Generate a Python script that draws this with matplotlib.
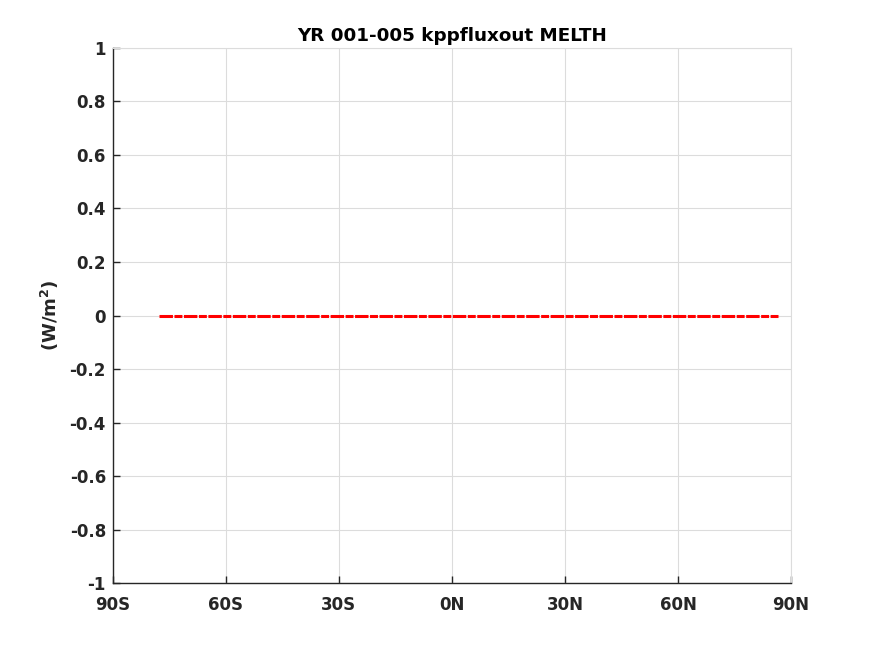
import matplotlib
matplotlib.use('Agg')
import matplotlib.pyplot as plt

# zonal mean of MELTH, all zero over the ocean latitudes
lat = [-77.8, 86.5]
melth = [0.0, 0.0]

xticks = [-90, -60, -30, 0, 30, 60, 90]
xlabels = ['90S', '60S', '30S', '0N', '30N', '60N', '90N']
yticks = [-1, -0.8, -0.6, -0.4, -0.2, 0, 0.2, 0.4, 0.6, 0.8, 1]
ylabels = ['-1', '-0.8', '-0.6', '-0.4', '-0.2', '0', '0.2', '0.4', '0.6', '0.8', '1']

txt = '#262626'
plt.rcParams['font.family'] = 'DejaVu Sans'
plt.rcParams['font.weight'] = 'bold'

fig = plt.figure(figsize=(8.75, 6.56), dpi=100)
ax = fig.add_axes([0.129, 0.111, 0.775, 0.816])

ax.plot(lat, melth, color='#ff0000', lw=2.2, dashes=(4.4, 0.5, 2.6, 0.5), zorder=3)

ax.set_xlim(-90, 90)
ax.set_ylim(-1, 1)
ax.set_xticks(xticks)
ax.set_xticklabels(xlabels)
ax.set_yticks(yticks)
ax.set_yticklabels(ylabels)
ax.grid(True, color='#dcdcdc', lw=0.8)
ax.set_axisbelow(True)

for s in ['top', 'right']:
    ax.spines[s].set_color('#dcdcdc')
    ax.spines[s].set_linewidth(0.8)
for s in ['left', 'bottom']:
    ax.spines[s].set_color(txt)
    ax.spines[s].set_linewidth(1.0)

ax.tick_params(direction='in', length=5, width=1, colors=txt, labelsize=12)
ax.tick_params(axis='x', pad=9)
ax.tick_params(axis='y', pad=5)
ax.tick_params(top=False, right=False)
for lab in ax.get_xticklabels() + ax.get_yticklabels():
    lab.set_fontweight('bold')

ax.set_ylabel('(W/m$^\\mathbf{2}$)', fontsize=13, fontweight='bold', color=txt, labelpad=6)
ax.set_title('YR 001-005 kppfluxout MELTH', fontsize=13.2, fontweight='bold', color='black', pad=5)

fig.savefig('out.png', dpi=100)
